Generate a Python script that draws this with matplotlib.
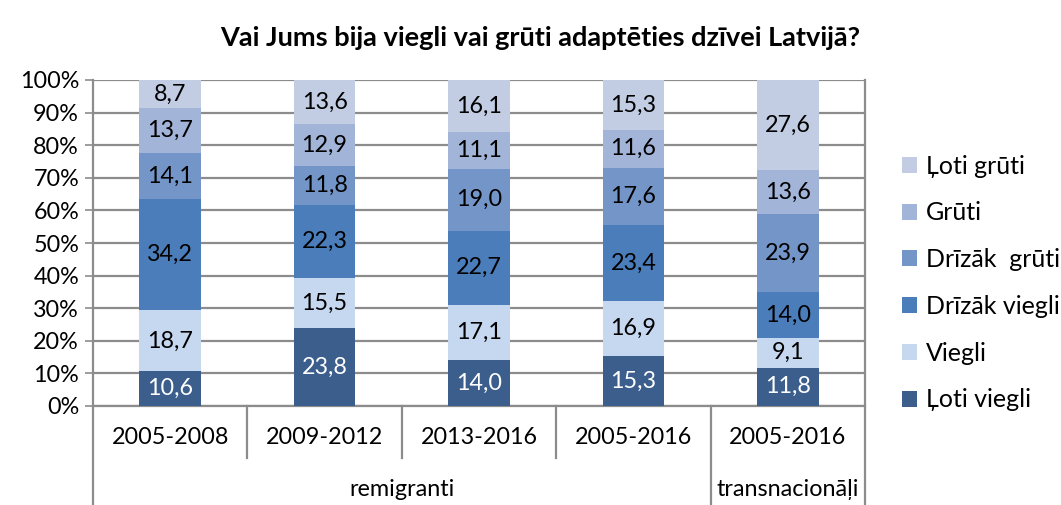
import matplotlib
matplotlib.use("Agg")
import matplotlib.pyplot as plt
from matplotlib.patches import Patch
import numpy as np

plt.rcParams['font.family'] = ['Lato', 'DejaVu Sans']

categories = ["2005-2008", "2009-2012", "2013-2016", "2005-2016", "2005-2016"]
groups = ["remigranti", "transnacionāļi"]
series_names = ["Ļoti viegli", "Viegli", "Drīzāk viegli", "Drīzāk  grūti", "Grūti", "Ļoti grūti"]
loti_viegli = [10.6, 23.8, 14.0, 15.3, 11.8]
viegli = [18.7, 15.5, 17.1, 16.9, 9.1]
drizak_viegli = [34.2, 22.3, 22.7, 23.4, 14.0]
drizak_gruti = [14.1, 11.8, 19.0, 17.6, 23.9]
gruti = [13.7, 12.9, 11.1, 11.6, 13.6]
loti_gruti = [8.7, 13.6, 16.1, 15.3, 27.6]
title = "Vai Jums bija viegli vai grūti adaptēties dzīvei Latvijā?"

series = [loti_viegli, viegli, drizak_viegli, drizak_gruti, gruti, loti_gruti]
colors = ["#3B5E8C", "#C6D8F0", "#4A7DBA", "#7495C8", "#A2B4D7", "#C2CDE3"]
text_colors = ["white", "black", "black", "black", "black", "black"]

FS = 16.8
W, H = 1061, 505
fig = plt.figure(figsize=(W / 100, H / 100), dpi=100)
ax_left, ax_right = 93 / W, 865 / W
ax_bottom, ax_top = 1 - 406 / H, 1 - 80 / H
ax = fig.add_axes([ax_left, ax_bottom, ax_right - ax_left, ax_top - ax_bottom])

x = np.arange(len(categories))
data = np.array(series, dtype=float)
totals = data.sum(axis=0)
pct = data / totals * 100
bottom = np.zeros(len(categories))
for i in range(len(series)):
    ax.bar(x, pct[i], bottom=bottom, width=0.40, color=colors[i], edgecolor="none", zorder=3)
    for j in range(len(categories)):
        ax.text(x[j], bottom[j] + pct[i][j] / 2, f"{data[i][j]:.1f}".replace(".", ","),
                ha="center", va="center", fontsize=FS, color=text_colors[i], zorder=4)
    bottom += pct[i]

ax.set_xlim(-0.5, len(categories) - 0.5)
ax.set_ylim(0, 100)
ax.set_yticks(np.arange(0, 101, 10))
ax.set_yticklabels([f"{v}%" for v in range(0, 101, 10)], fontsize=FS)
ax.yaxis.grid(True, color="#8C8C8C", linewidth=1.6, zorder=0)
ax.tick_params(axis="y", length=6, width=1.2, color="#8C8C8C", pad=4)
ax.set_xticks([])
for s in ["top", "right"]:
    ax.spines[s].set_visible(False)
ax.spines["left"].set_color("#8C8C8C")
ax.spines["left"].set_linewidth(1.6)
ax.spines["bottom"].set_color("#8C8C8C")
ax.spines["bottom"].set_linewidth(1.6)

# category labels and separators below axis
for j, c in enumerate(categories):
    fig.text(ax_left + (j + 0.5) / len(categories) * (ax_right - ax_left), 1 - 438 / H, c,
             ha="center", va="center", fontsize=FS)
for k in range(1, len(categories)):
    xf = ax_left + k / len(categories) * (ax_right - ax_left)
    if k == 4:
        fig.add_artist(plt.Line2D([xf, xf], [1 - 406 / H, 0], color="#8C8C8C", lw=1.6))
    else:
        fig.add_artist(plt.Line2D([xf, xf], [1 - 406 / H, 1 - 458 / H], color="#8C8C8C", lw=1.6))
fig.add_artist(plt.Line2D([ax_left, ax_left], [1 - 406 / H, 0], color="#8C8C8C", lw=1.6))
fig.add_artist(plt.Line2D([ax_right, ax_right], [1 - 80 / H, 0], color="#8C8C8C", lw=1.6))

# group labels
fig.text(ax_left + 2.0 / 5 * (ax_right - ax_left), 1 - 490 / H, groups[0],
         ha="center", va="center", fontsize=FS)
fig.text(ax_left + 4.5 / 5 * (ax_right - ax_left), 1 - 490 / H, groups[1],
         ha="center", va="center", fontsize=FS)

fig.text(540 / W, 1 - 38 / H, title, ha="center", va="center", fontsize=19.5, fontweight="bold")

handles = [Patch(facecolor=colors[i], edgecolor="none", label=series_names[i]) for i in range(len(series))][::-1]
fig.legend(handles=handles, loc="center left", bbox_to_anchor=(902 / W, 1 - 283 / H),
           frameon=False, fontsize=18, handlelength=0.6, handleheight=0.6,
           handletextpad=0.35, labelspacing=0.95, borderaxespad=0, borderpad=0)

fig.savefig("out.png", dpi=100)
